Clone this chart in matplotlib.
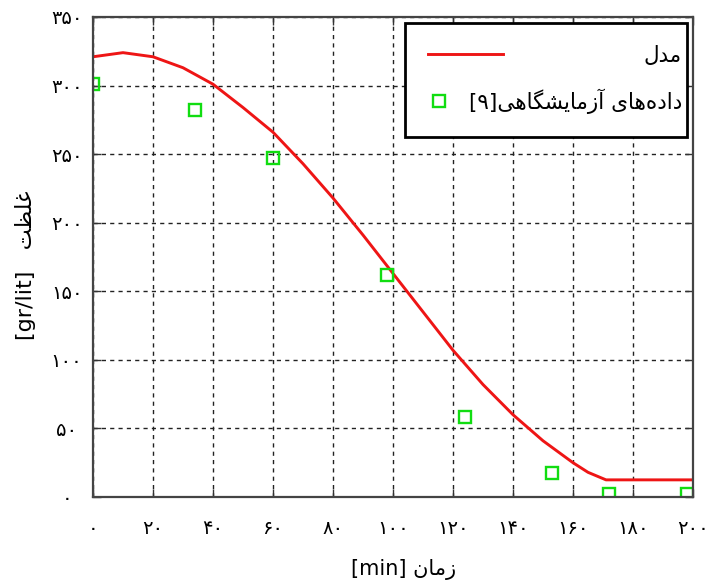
import matplotlib.pyplot as plt
from matplotlib.legend_handler import HandlerLine2D

plt.rcParams['font.family'] = ['DejaVu Sans']

# model curve
model_x = [0, 10, 20, 30, 40, 50, 60, 70, 80, 90, 100, 110, 120, 130, 140, 150, 160, 165, 171, 200]
model_y = [321, 324, 321, 313, 301, 284, 266, 243, 218, 191, 163, 135, 107, 82, 60, 41, 25, 18, 12.5, 12.5]

# lab data [9]
lab_x = [0, 34, 60, 98, 124, 153, 172, 198]
lab_y = [301, 282, 247, 162, 58, 17.5, 2, 2]

x_ticks = [0, 20, 40, 60, 80, 100, 120, 140, 160, 180, 200]
y_ticks = [0, 50, 100, 150, 200, 250, 300, 350]

fa_digits = str.maketrans('0123456789', '۰۱۲۳۴۵۶۷۸۹')
x_labels = [str(v).translate(fa_digits) for v in x_ticks]
y_labels = [str(v).translate(fa_digits) for v in y_ticks]

# Persian text written in shaped presentation forms, visual (left-to-right) order
lbl_model = '\uFEDD\uFEAA\uFEE3'  # مدل
lbl_lab = ('[\u06F9]' + '\uFEF0\uFEEB\uFE8E\uFB95\uFEB8\uFEF3\uFE8E\uFEE3\uFEAF\uFE81'
           + ' ' + '\uFEEF\uFE8E\uFEEB\uFEE9\uFEA9\uFE8D\uFEA9')  # داده‌های آزمایشگاهی[۹]
x_title = '[min] ' + '\uFEE5\uFE8E\uFEE3\uFEAF'  # زمان [min]
y_title = '[gr/lit]   ' + '\uFE96\uFEC8\uFEE0\uFECF'  # غلظت [gr/lit]


class LeftMarker(HandlerLine2D):
    # square sits at the left end of the handle, like the original legend
    def create_artists(self, *args, **kwargs):
        arts = super().create_artists(*args, **kwargs)
        line = arts[0]
        x = line.get_xdata()
        line.set_xdata([x[0] + 0.14 * (x[-1] - x[0])] * len(x))
        return arts


fig = plt.figure(figsize=(7.1, 5.82), dpi=100)
ax = fig.add_axes([93 / 710, 85 / 582, 600 / 710, 480 / 582])

ax.plot(model_x, model_y, color='#ee1515', lw=2.1, label=lbl_model)
lab_line, = ax.plot(lab_x, lab_y, ls='none', marker='s', ms=8.5, mfc='none',
                    mec='#11dd11', mew=1.7, label=lbl_lab)

ax.set_xlim(0, 200)
ax.set_ylim(0, 350)
ax.set_xticks(x_ticks, x_labels)
ax.set_yticks(y_ticks, y_labels)
ax.tick_params(direction='in', top=True, right=True, length=6, width=1,
               labelsize=14, color='#333333')
ax.tick_params(axis='x', pad=16)
ax.tick_params(axis='y', pad=19)
for t in ax.get_yticklabels():
    t.set_horizontalalignment('center')

ax.grid(True, color='#222222', ls=(0, (3, 3)), lw=1)
for s in ax.spines.values():
    s.set_color('#444444')
    s.set_linewidth(1.6)

ax.set_xlabel(x_title, fontsize=15)
ax.xaxis.set_label_coords(0.518, -0.13)
ax.set_ylabel(y_title, fontsize=16)
ax.yaxis.set_label_coords(-0.095, 0.482)

# legend geometry (pixels of the original), fontsize in points
fs = 15.5
em = fs * 100 / 72
box_w, pad_px, handle_px, text_right = 282, 23, 75, 682


def make_legend(textpad):
    lg = ax.legend(loc='upper right', fontsize=fs, frameon=True, fancybox=False,
                   framealpha=1, edgecolor='black', borderaxespad=6 / em,
                   handlelength=handle_px / em, borderpad=pad_px / em,
                   labelspacing=1.05, handletextpad=textpad,
                   handler_map={lab_line: LeftMarker(numpoints=1)})
    lg.get_frame().set_linewidth(2)
    return lg


leg = make_legend(0.8)
fig.canvas.draw()
widths = [t.get_window_extent().width for t in leg.get_texts()]
w_max = max(widths)
leg.remove()
leg = make_legend((box_w - 2 * pad_px - handle_px - w_max) / em)

# right-align the legend labels (Persian text) near the right edge of the box
fig.canvas.draw()
texts = leg.get_texts()
shift = text_right - max(t.get_window_extent().x1 for t in texts)
for t, w in zip(texts, widths):
    t.set_x(w_max - w + shift)

fig.savefig('out.png', dpi=100)
